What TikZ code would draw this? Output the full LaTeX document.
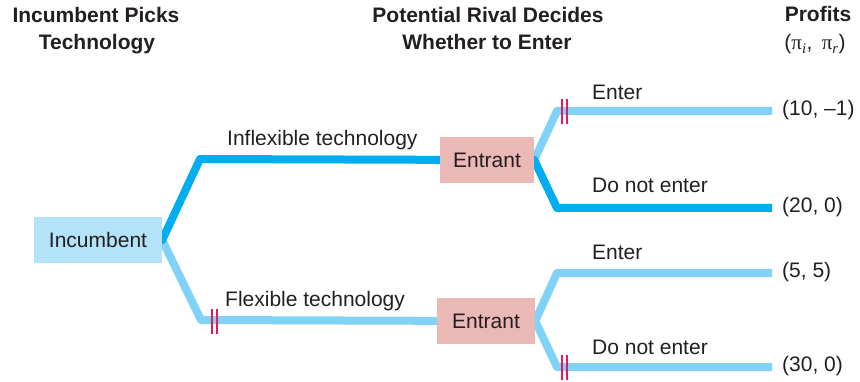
\documentclass[tikz,border=0pt]{standalone}
\usepackage{fontspec}
\setmainfont{Liberation Sans}
\newfontfamily\pifont{Liberation Serif}
\usetikzlibrary{backgrounds}
\definecolor{darkblue}{HTML}{00AEEF}
\definecolor{lightblue}{HTML}{80D3F6}
\definecolor{incfill}{HTML}{B3E3F8}
\definecolor{entfill}{HTML}{EAB9B6}
\definecolor{tickred}{HTML}{E8195A}
\definecolor{txt}{HTML}{231F20}
\tikzset{
  every node/.style={text=txt, font=\fontsize{21}{25}\selectfont},
  head/.style={font=\fontsize{21}{25}\selectfont\bfseries, anchor=base, inner sep=0pt},
  lbl/.style={anchor=base west, inner sep=0pt},
  pay/.style={anchor=west, inner sep=0pt},
  incbox/.style={fill=incfill, minimum width=128pt, minimum height=46pt, inner sep=0pt},
  entbox/.style={fill=entfill, minimum height=46pt, inner sep=0pt},
  chosen/.style={draw=darkblue, line width=8pt, line join=round},
  other/.style={draw=lightblue, line width=8pt, line join=round},
  cut/.style={draw=tickred, line width=1.1pt}
}
\begin{document}
\begin{tikzpicture}[x=1pt, y=-1pt]
\useasboundingbox (0,0) rectangle (860,382);
% headers
\node[head] (h1a) at (96,23) {Incumbent Picks};
\node[head] (h1b) at (97,50) {Technology};
\node[head] (h2a) at (488,23) {Potential Rival Decides};
\node[head] (h2b) at (487,50) {Whether to Enter};
\node[head] (h3a) at (818,22) {Profits};
\node[anchor=base, inner sep=0pt] (h3b) at (815,50) {({\pifont π}\textsubscript{\pifont\itshape i}, \,{\pifont π}\textsubscript{\pifont\itshape r})};
% decision nodes
\node[incbox] (inc) at (98,240) {Incumbent};
\node[entbox, minimum width=94pt] (ent1) at (487,160) {Entrant};
\node[entbox, minimum width=98pt] (ent2) at (486,321) {Entrant};
% end coordinates
\coordinate (k1) at (200,159);
\coordinate (k2) at (201,320);
\coordinate (a1) at (557,111); \coordinate (e1) at (772,111);
\coordinate (a2) at (557,208); \coordinate (e2) at (772,208);
\coordinate (a3) at (557,273); \coordinate (e3) at (772,273);
\coordinate (a4) at (557,367); \coordinate (e4) at (772,367);
\begin{scope}[on background layer]
\draw[other] (inc.center) -- (inc.east) -- (k2) -- (ent2.center);
\draw[chosen] (inc.center) -- (inc.east) -- (k1) -- (ent1.center);
\draw[other] (ent1.center) -- (ent1.east) -- (a1) -- (e1);
\draw[chosen] (ent1.center) -- (ent1.east) -- (a2) -- (e2);
\draw[other] (ent2.center) -- (ent2.east) -- (a3) -- (e3);
\draw[other] (ent2.center) -- (ent2.east) -- (a4) -- (e4);
\end{scope}
% pruned branches
\draw[cut] (212,309) -- (212,334) (217,309) -- (217,334);
\draw[cut] (562,99) -- (562,124) (567,99) -- (567,124);
\draw[cut] (562,355) -- (562,380) (567,355) -- (567,380);
% branch labels
\node[lbl] (l1) at (227,146) {Inflexible technology};
\node[lbl] (l2) at (225,306) {Flexible technology};
\node[lbl] (l3) at (592,100) {Enter};
\node[lbl] (l4) at (592,193) {Do not enter};
\node[lbl] (l5) at (592,260) {Enter};
\node[lbl] (l6) at (592,354) {Do not enter};
% payoffs
\node[pay] (p1) at ([xshift=10pt,yshift=1pt]e1) {(10, –1)};
\node[pay] (p2) at ([xshift=10pt,yshift=1pt]e2) {(20, 0)};
\node[pay] (p3) at ([xshift=10pt,yshift=1pt]e3) {(5, 5)};
\node[pay] (p4) at ([xshift=10pt,yshift=1pt]e4) {(30, 0)};
\end{tikzpicture}
\end{document}
